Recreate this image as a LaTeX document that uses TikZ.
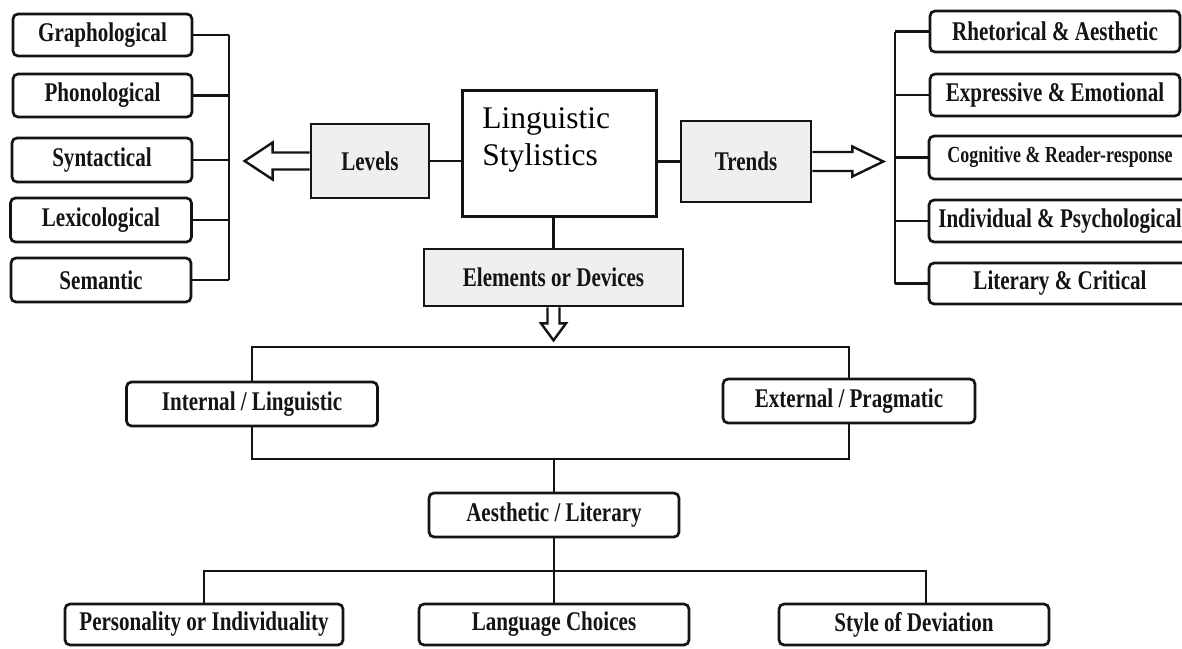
\documentclass[tikz,border=0pt]{standalone}
\usepackage{fontspec}
\setmainfont{Liberation Serif}
\newfontfamily\condfont[FakeStretch=0.78]{Liberation Serif}
\definecolor{boxgray}{HTML}{EFEFEF}
\definecolor{ink}{HTML}{141414}
\begin{document}
\begin{tikzpicture}[x=1pt,y=-1pt,
  box/.style={draw=ink, rounded corners=5pt, line width=2.7pt, fill=white, text=ink,
    inner sep=0pt, font=\condfont\bfseries\fontsize{27}{30}\selectfont},
  gbox/.style={box, rounded corners=0pt, fill=boxgray},
  conn/.style={draw=ink, line width=2.2pt},
  hollow/.style={draw=ink, line width=2.4pt, fill=white, line join=miter}]
\fill[white] (0,0) rectangle (1182,648);
\useasboundingbox (0,0) rectangle (1182,648);

% central box
\node[draw=ink, line width=3.8pt, minimum width=194pt, minimum height=126pt, inner sep=0pt] (ls) at (559.5,153.5) {};
\node[anchor=north west, inner sep=0pt, align=left, text=black,
  font=\fontsize{31.5}{37}\selectfont] (lstext) at ([shift={(21.5,18.5)}]ls.north west) {Linguistic\\Stylistics};

% levels / trends / elements
\node[gbox, minimum width=118pt, minimum height=74pt] (lev) at (370,161) {Levels};
\node[gbox, minimum width=130pt, minimum height=81pt] (tr) at (746,161.5) {Trends};
\node[gbox, minimum width=259pt, minimum height=57pt] (el) at (553.5,277.5) {Elements or Devices};

% left column
\node[box, minimum width=179pt, minimum height=42pt] (g1) at (102.5,35) {Graphological};
\node[box, minimum width=179pt, minimum height=43pt] (g2) at (102.5,95.5) {Phonological};
\node[box, minimum width=180pt, minimum height=44pt] (g3) at (102,160) {Syntactical};
\node[box, minimum width=181pt, minimum height=44pt] (g4) at (101,220) {Lexicological};
\node[box, minimum width=180pt, minimum height=44pt] (g5) at (101,280) {Semantic};

% right column
\node[box, minimum width=250pt, minimum height=41pt] (r1) at (1055,31.5) {Rhetorical \& Aesthetic};
\node[box, minimum width=250pt, minimum height=42pt] (r2) at (1055,95) {Expressive \& Emotional};
\node[box, minimum width=262pt, minimum height=43pt,
  font=\condfont\bfseries\fontsize{23}{26}\selectfont] (r3) at (1060,157.5) {Cognitive \& Reader-response};
\node[box, minimum width=262pt, minimum height=42pt] (r4) at (1060,221) {Individual \& Psychological};
\node[box, minimum width=262pt, minimum height=41pt] (r5) at (1060,283.5) {Literary \& Critical};

% lower part
\node[box, minimum width=251pt, minimum height=44pt] (int) at (252,404) {Internal / Linguistic};
\node[box, minimum width=252pt, minimum height=44pt] (ext) at (849,401) {External / Pragmatic};
\node[box, minimum width=250pt, minimum height=44pt] (aes) at (554,515) {Aesthetic / Literary};
\node[box, minimum width=278pt, minimum height=41pt] (pers) at (204,624.5) {Personality or Individuality};
\node[box, minimum width=270pt, minimum height=41pt] (lang) at (554,624.5) {Language Choices};
\node[box, minimum width=270pt, minimum height=41pt] (sty) at (914,624.5) {Style of Deviation};

% left bracket
\coordinate (lbt) at (229,35);
\coordinate (lbb) at (229,280);
\draw[conn] (lbt) -- (lbb);
\foreach \n in {g1,g2,g3,g4,g5} \draw[conn] (\n.east) -- (\n.east -| lbt);

% right bracket
\coordinate (rbt) at (895,31.5);
\coordinate (rbb) at (895,283.5);
\draw[conn] (rbt) -- (rbb);
\foreach \n in {r1,r2,r3,r4,r5} \draw[conn] (\n.west) -- (\n.west -| rbt);

% centre connectors
\draw[conn] (lev.east) -- (lev.east -| ls.west);
\draw[conn] (tr.west -| ls.east) -- (tr.west);
\draw[conn] (ls.south -| el.north) -- (el.north);

% hollow arrows
\draw[hollow] ([shift={(0,-8.5)}]lev.west) -- ++(-37,0) -- ++(0,-10) -- ++(-28,18.5)
  -- ++(28,18.5) -- ++(0,-10) -- ++(37,0);
\draw[hollow] ([shift={(0,-9.5)}]tr.east) -- ++(40,0) -- ++(0,-5.5) -- ++(31,15)
  -- ++(-31,15) -- ++(0,-5.5) -- ++(-40,0);
\draw[hollow] ([shift={(-6,0)}]el.south) -- ++(0,16) -- ++(-6.5,0) -- ++(12.5,17)
  -- ++(12.5,-17) -- ++(-6.5,0) -- ++(0,-16);

% internal / external frame
\coordinate (hl1) at (252,347);
\coordinate (hr1) at (849,347);
\coordinate (hl2) at (252,459);
\coordinate (hr2) at (849,459);
\draw[conn] (int.north) -- (hl1) -- (hr1) -- (ext.north);
\draw[conn] (int.south) -- (hl2) -- (hr2) -- (ext.south);
\draw[conn] (hl2 -| aes.north) -- (aes.north);

% bottom tree
\coordinate (bl) at (204,571);
\coordinate (br) at (926,571);
\draw[conn] (aes.south) -- (lang.north);
\draw[conn] (pers.north) -- (bl) -- (br) -- (sty.north -| br);
\end{tikzpicture}
\end{document}
